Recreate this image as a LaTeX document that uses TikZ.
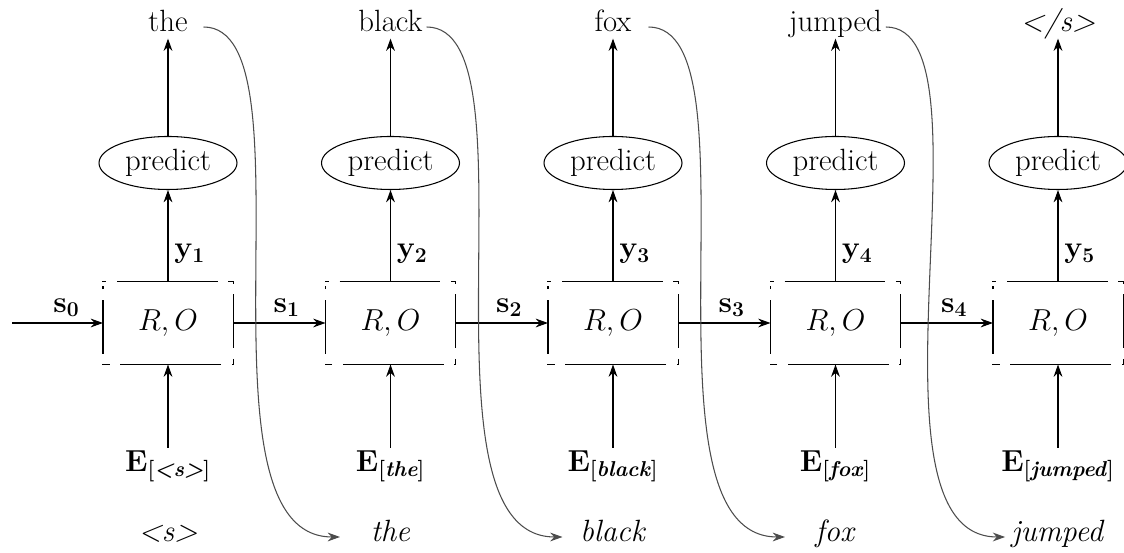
\documentclass[tikz,border=0pt]{standalone}
\usepackage{tikz}
\usepackage{amsmath}
\usetikzlibrary{arrows.meta,shapes.geometric}

\begin{document}
\begin{tikzpicture}[>={Stealth[length=7pt,width=5pt]}, line width=.6pt, every node/.style={font=\fontsize{17.5}{21}\selectfont},
  wordtop/.style={minimum width=1.4cm, inner sep=2pt, text height=1.6ex, text depth=.4ex},
  wordbot/.style={minimum width=2cm, text height=1.6ex, text depth=.4ex},
  pred/.style={draw, ellipse, minimum width=2.76cm, minimum height=1.06cm, inner sep=0pt},
  cell/.style={minimum width=2.58cm, minimum height=1.64cm},
  frame/.style={line join=miter, dash pattern=on 2pt off 6pt on 57.4pt off 6pt on 4pt off 6pt on 30.7pt off 6pt on 4pt off 6pt on 57.4pt off 6pt on 4pt off 6pt on 30.7pt off 6pt on 2pt},
  carry/.style={->, black!70}]
\useasboundingbox (0,0) rectangle (22.48,11.06);
% one column per time step
\foreach \i/\x/\outw/\inw in {1/3.36/the/{<s>}, 2/7.81/black/the, 3/12.26/fox/black, 4/16.71/jumped/fox, 5/21.16/{\textit{</s>}}/jumped}{
  \node[wordtop] (w\i) at (\x,10.52) {\outw};
  \node[pred] (p\i) at (\x,7.8) {predict};
  \node[cell] (b\i) at (\x,4.6) {$R, O$};
  \node[anchor=north, text height=2.2ex] (e\i) at (\x,2.1) {$\mathbf{E}_{\textbf{[\textit{\inw}]}}$};
  \node[wordbot] (v\i) at (\x,0.32) {\textit{\inw}};
  \draw[frame] (b\i.north west) -- (b\i.north east) -- (b\i.south east) -- (b\i.south west) -- cycle;
  \draw[->] (p\i) -- (w\i);
  \draw[->] (b\i) -- (p\i) node[pos=.3,right] {$\mathbf{y_{\i}}$};
  \draw[->] (e\i) -- (b\i);
}
% state chain
\coordinate (s) at (0.24,4.6);
\draw[->] (s) -- (b1) node[pos=.6,above] {$\mathbf{s_0}$};
\foreach \i [count=\j] in {2,...,5} \draw[->] (b\j) -- (b\i) node[pos=.58,above] {$\mathbf{s_{\j}}$};
% predicted word fed back as next input
\foreach \i [count=\j from 2] in {1,...,4} \draw[carry] (w\i.east) .. controls +(2.3,0) and +(-3.1,0) .. (v\j.west);
\end{tikzpicture}
\end{document}
